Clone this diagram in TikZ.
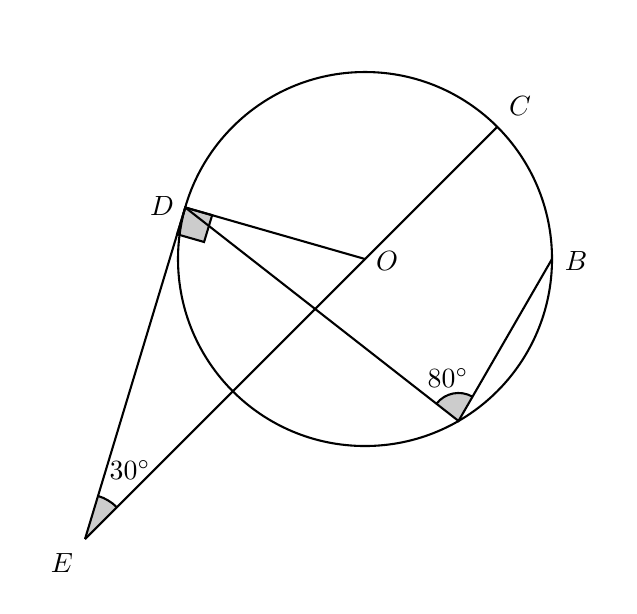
\documentclass[tikz,border=0pt]{standalone}
\usetikzlibrary{calc,angles}
\tikzset{
  ln/.style={line width=0.75pt},
  angmark/.style={draw,line width=0.75pt,fill=black!20},
  lbl/.style={inner sep=0pt}
}
\begin{document}
\begin{tikzpicture}[x=0.36pt,y=-0.36pt]
\useasboundingbox (0,0) rectangle (637,613);
\coordinate (O) at (365,259);
\coordinate (C) at ($(O)+(45:187 and -187)$);
\coordinate (B) at (552,259);
\coordinate (A) at ($(O)+(-60:187 and -187)$);
\coordinate (D) at ($(O)+(164:187 and -187)$);
\coordinate (E) at (85,539);
% angle marks
\pic[angmark, angle radius=45*0.36pt] {angle=C--E--D};
\pic[angmark, angle radius=28*0.36pt] {angle=B--A--D};
\coordinate (D1) at ($(D)!10.08pt!(O)$);
\coordinate (D2) at ($(D)!10.08pt!(E)$);
\draw[angmark] (D) -- (D1) -- ($(D1)+(D2)-(D)$) -- (D2) -- cycle;
% circle and lines
\draw[ln] (O) circle[radius=187];
\draw[ln] (E) -- (C);
\draw[ln] (E) -- (D) -- (O);
\draw[ln] (D) -- (A) -- (B);
% labels
\node[lbl] (lD) at (162,206) {$D$};
\node[lbl] (lC) at (520,106) {$C$};
\node[lbl] (lB) at (576,261) {$B$};
\node[lbl] (lO) at (387,261) {$O$};
\node[lbl] (lE) at (62,563) {$E$};
\node[lbl] (l30) at (130,470) {$30^\circ$};
\node[lbl] (l80) at (448,378) {$80^\circ$};
\end{tikzpicture}
\end{document}
